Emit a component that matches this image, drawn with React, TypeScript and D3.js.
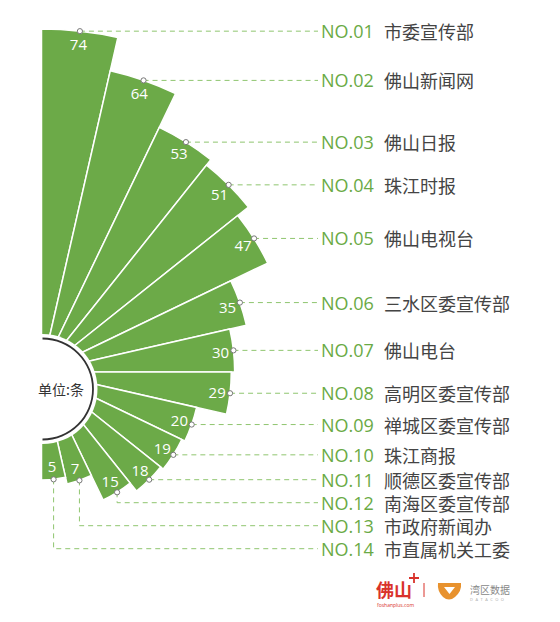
import React from 'react';
import * as d3 from 'd3';

const names = ['市委宣传部', '佛山新闻网', '佛山日报', '珠江时报', '佛山电视台', '三水区委宣传部', '佛山电台', '高明区委宣传部', '禅城区委宣传部', '珠江商报', '顺德区委宣传部', '南海区委宣传部', '市政府新闻办', '市直属机关工委'];
const values = [74, 64, 53, 51, 47, 35, 30, 29, 20, 19, 18, 15, 7, 5];
const rankLabels = names.map((_, i) => 'NO.' + String(i + 1).padStart(2, '0'));
const unitLabel = '单位:条';

const FONT = "'Open Sans', 'Noto Sans CJK SC', sans-serif";
const BAR = '#6caa48';
const GREEN_TEXT = '#6aaa45';
const DASH = '#8fc56f';

export default function App() {
  const W = 560, H = 622;
  const cx = 41.5, cy = 372;
  const angle = d3.scaleBand<string>().domain(names).range([0, Math.PI]).padding(0);
  const radius = d3.scaleLinear().domain([0, 74]).range([91, 343]);
  const arc = d3.arc<any>();

  const items = names.map((n, i) => {
    const a0 = angle(n) as number;
    const a1 = a0 + angle.bandwidth();
    const mid = (a0 + a1) / 2;
    const r = radius(values[i]);
    const path = arc({ innerRadius: 0, outerRadius: r, startAngle: a0, endAngle: a1 }) as string;
    const px = cx + r * Math.sin(mid);
    const py = cy - r * Math.cos(mid);
    const tr = r - 13;
    const tx = cx + tr * Math.sin(mid);
    const ty = cy - tr * Math.cos(mid);
    return { n, i, path, px, py, tx, ty, ly: 0 };
  });
  let prev = -Infinity;
  items.forEach((it) => {
    it.ly = Math.max(it.py, prev + 23);
    prev = it.ly;
  });

  const lineEnd = 318;
  const unitArc = d3.arc<any>()({ innerRadius: 49.6, outerRadius: 51.4, startAngle: 0, endAngle: Math.PI }) as string;

  return (
    <>
      <style>{'body{margin:0}'}</style>
      <svg width={W} height={H} style={{ display: 'block', background: '#fff' }} fontFamily={FONT}>
        <g transform={`translate(${cx},${cy})`}>
          {items.map((it) => (
            <path key={it.n} d={it.path} fill={BAR} stroke="#fff" strokeWidth={1.5} strokeLinejoin="miter" />
          ))}
        </g>
        <circle cx={42.5} cy={389} r={55} fill="#fff" />
        <path d={unitArc} transform="translate(42.5,389)" fill="#333" />
        <text x={38} y={389} fontSize={14} fill="#333" dominantBaseline="central" fontFamily="'Noto Sans CJK SC', sans-serif">{unitLabel}</text>

        {items.map((it) => (
          <text key={'v' + it.n} x={it.tx} y={it.ty} fontSize={15} fill="#fff" textAnchor="middle" dominantBaseline="central">{values[it.i]}</text>
        ))}

        {items.map((it) => {
          const bent = it.ly > it.py + 0.5;
          const d = bent
            ? `M${it.px},${it.py}V${it.ly}H${lineEnd}`
            : `M${it.px},${it.py}H${lineEnd}`;
          return <path key={'l' + it.n} d={d} fill="none" stroke={DASH} strokeWidth={1} strokeDasharray="5,4" />;
        })}
        {items.map((it) => (
          <circle key={'d' + it.n} cx={it.px} cy={it.py} r={2.6} fill="#fff" stroke="#777" strokeWidth={1} />
        ))}

        {items.map((it) => (
          <g key={'t' + it.n}>
            <text x={321} y={it.ly} fontSize={18} fill={GREEN_TEXT} dominantBaseline="central">{rankLabels[it.i]}</text>
            <text x={384} y={it.ly} fontSize={18} fill="#444" dominantBaseline="central" fontFamily="'Noto Sans CJK SC', sans-serif">{it.n}</text>
          </g>
        ))}

        {/* logos */}
        <g>
          <text x={376} y={597} fontSize={18} fill="#d9322b" fontFamily="'Noto Sans CJK SC', sans-serif" fontWeight={700}>佛山</text>
          <path d="M414,573V583M409,578H419" stroke="#d9322b" strokeWidth={1.8} />
          <text x={377} y={607} fontSize={5} fill="#d9322b">foshanplus.com</text>
          <line x1={424} y1={583} x2={424} y2={597} stroke="#d9322b" strokeWidth={1} />
          <path d="M438,583 L461,583 Q462,591 455,597 Q449,602 443,597 Q437,591 438,583 Z" fill="#e8922e" />
          <path d="M444,587 L455,587 L449.5,594 Z" fill="#fff" />
          <text x={470} y={589} fontSize={10} fill="#888" fontFamily="'Noto Sans CJK SC', sans-serif" dominantBaseline="central">湾区数据</text>
          <text x={470} y={601} fontSize={4} fill="#aaa" letterSpacing={2.5}>DATACOO</text>
        </g>
      </svg>
    </>
  );
}
